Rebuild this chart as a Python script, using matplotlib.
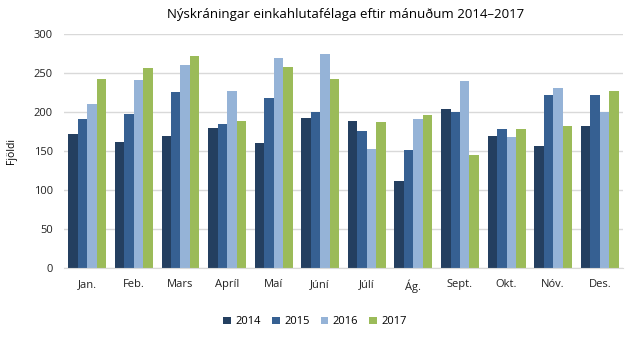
from matplotlib import pyplot as plt
import numpy as np

# months and yearly series
months = ['Jan.', 'Feb.', 'Mars', 'Apríl', 'Maí', 'Júní',
          'Júlí', 'Ág.', 'Sept.', 'Okt.', 'Nóv.', 'Des.']
years = ['2014', '2015', '2016', '2017']
v2014 = [172, 162, 169, 180, 160, 192, 188, 111, 204, 169, 156, 182]
v2015 = [191, 197, 226, 185, 218, 200, 176, 151, 200, 178, 222, 222]
v2016 = [210, 241, 260, 227, 269, 274, 153, 191, 240, 168, 231, 200]
v2017 = [242, 256, 272, 189, 258, 242, 187, 196, 145, 178, 182, 227]
colors = ['#243F60', '#366092', '#95B3D7', '#9BBB59']

plt.rcParams['font.family'] = ['Open Sans', 'DejaVu Sans']

fig = plt.figure(figsize=(6.43, 3.40), dpi=100)
ax = fig.add_axes([0.0995, 0.212, 0.8695, 0.688])

x = np.arange(len(months))
w = 0.203
series = [v2014, v2015, v2016, v2017]
for i, vals in enumerate(series):
    ax.bar(x + (i - 1.5) * w, vals, width=w, color=colors[i], label=years[i],
           zorder=3)

ax.set_xlim(-0.5, len(months) - 0.5)
ax.set_ylim(0, 300)
ax.set_yticks(range(0, 301, 50))
ax.set_xticks(x)
ax.set_xticklabels(months)
ax.tick_params(axis='both', length=0, labelsize=8, colors='#222222')
ax.tick_params(axis='x', pad=8)
ax.tick_params(axis='y', pad=8)
ax.grid(axis='y', color='#D9D9D9', linewidth=1, zorder=0)
for s in ['top', 'right', 'left']:
    ax.spines[s].set_visible(False)
ax.spines['bottom'].set_color('#D9D9D9')
ax.spines['bottom'].set_zorder(4)

ax.set_ylabel('Fjöldi', fontsize=7.5, labelpad=12)
fig.text(0.537, 0.956, 'Nýskráningar einkahlutafélaga eftir mánuðum 2014–2017',
         ha='center', va='center', fontsize=9.5)

fig.legend(loc='center', bbox_to_anchor=(0.49, 0.053), ncol=4, frameon=False,
           fontsize=8, handlelength=0.7, handleheight=0.7, handletextpad=0.4,
           columnspacing=1.0)

fig.savefig('out.png', dpi=100)
